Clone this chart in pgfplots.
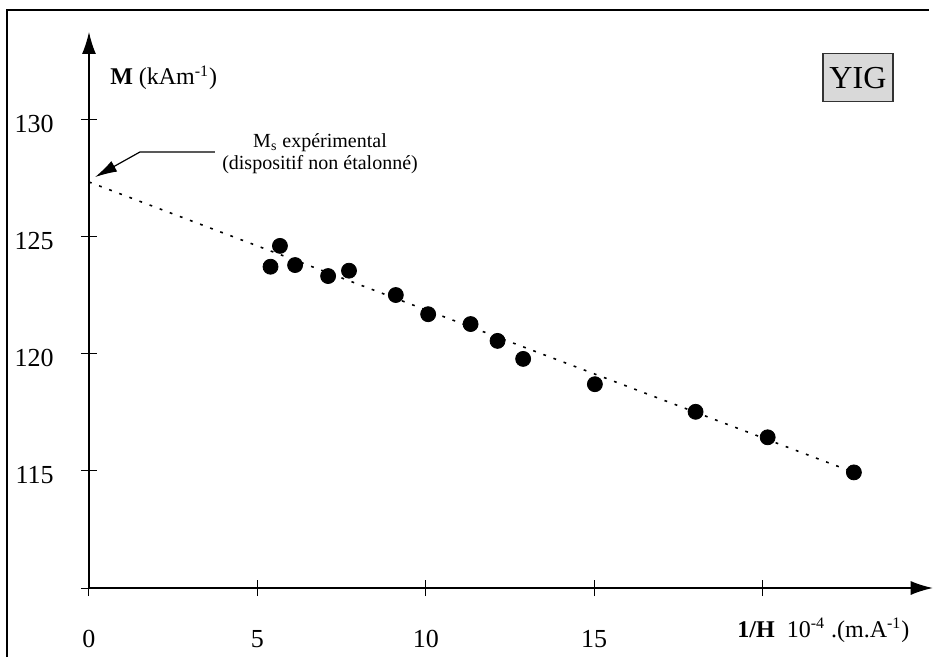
\documentclass[border=0pt]{standalone}
\usepackage{fontspec}
\setmainfont{Liberation Serif}
\usepackage{pgfplots}
\pgfplotsset{compat=1.18}
\usetikzlibrary{arrows.meta}
\begin{document}
\begin{tikzpicture}
\begin{axis}[
  x=16.84pt, y=11.7pt,
  xmin=0, xmax=25.05, ymin=110, ymax=133.76,
  axis lines=left,
  axis line style={line width=0.6pt, -{Latex[length=11pt,width=7pt]}},
  xtick={0,5,10,15,20}, xticklabels={0,5,10,15,{}},
  ytick={110,115,120,125,130}, yticklabels={{},115,120,125,130},
  tick align=center, major tick length=8pt,
  tick style={black, line width=0.5pt},
  ticklabel style={font=\fontsize{13}{15}\selectfont},
  /pgf/number format/assume math mode=true,
  xticklabel style={anchor=center, yshift=-21.5pt},
  yticklabel style={anchor=east, inner sep=0pt, xshift=-13.5pt, yshift=-2pt},
  clip=false,
]
\addplot[black, line width=0.8pt, dash pattern=on 1.4pt off 4pt] coordinates {(0,127.35) (22.71,114.94)};
\addplot[only marks, mark=*, mark size=3.75pt, black] coordinates {
(5.67,124.62) (5.39,123.73) (6.12,123.80) (7.10,123.33) (7.72,123.56)
(9.11,122.52) (10.07,121.70) (11.33,121.28) (12.13,120.56) (12.89,119.79)
(15.02,118.71) (18.01,117.53) (20.15,116.44) (22.71,114.94)};
\node[align=center, font=\fontsize{10}{11}\selectfont] at (axis cs:6.86,128.55) {M\textsubscript{s} expérimental\\(dispositif non étalonné)};
\draw[line width=0.6pt, -{Latex[length=11pt,width=6pt]}] (axis cs:3.74,128.63) -- (axis cs:1.51,128.63) -- (axis cs:0.18,127.56);
\node[draw=black!80, line width=0.6pt, fill=black!15, minimum width=35pt, minimum height=24pt, inner sep=0pt, font=\fontsize{16}{18}\selectfont] at (axis cs:22.83,131.8) {YIG};
\node[anchor=west, inner sep=0pt, font=\fontsize{12}{14}\selectfont] at (axis cs:0.62,131.8) {\textbf{M} (kAm\textsuperscript{-1})};
\node[anchor=west, inner sep=0pt, font=\fontsize{12}{14}\selectfont] at (axis cs:19.24,108.2) {\textbf{1/H}~~10\textsuperscript{-4} .(m.A\textsuperscript{-1})};
\draw[line width=1.3pt] (axis cs:-2.434,107.05) -- (axis cs:-2.434,134.7) -- (axis cs:24.94,134.7);
\coordinate (bl) at (axis cs:-2.642,107.05);
\coordinate (tr) at (axis cs:25.237,135.128);
\end{axis}
\pgfresetboundingbox
\path[use as bounding box] (bl) rectangle (tr);
\end{tikzpicture}
\end{document}
